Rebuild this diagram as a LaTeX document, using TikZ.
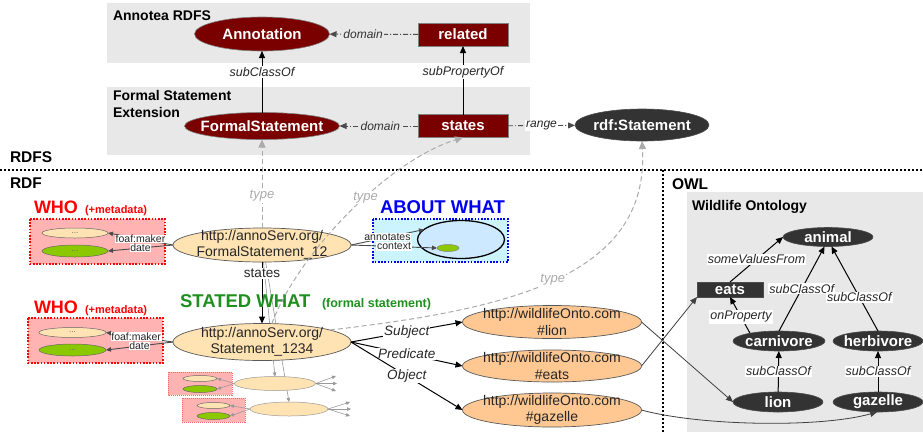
\documentclass[tikz,border=0pt]{standalone}
\usepackage{fontspec}
\setmainfont{Liberation Sans}
\usetikzlibrary{shapes.geometric,arrows.meta}
\pgfdeclarelayer{back}
\pgfdeclarelayer{mid}
\pgfsetlayers{back,mid,main}
\newcommand\myfs[2]{\fontsize{#1}{#2}\selectfont}
\definecolor{dred}{HTML}{7A0000}
\definecolor{dgray}{HTML}{333333}
\definecolor{boxgray}{HTML}{E8E8E8}
\definecolor{peach}{HTML}{FFE3B3}
\definecolor{orng}{HTML}{FFC892}
\definecolor{pinkf}{HTML}{FFB3B3}
\definecolor{greenf}{HTML}{8CC800}
\definecolor{cyanf}{HTML}{CCF4FF}
\definecolor{ltblue}{HTML}{CDE9FF}
\definecolor{stgreen}{HTML}{1F8F1F}
\definecolor{typegray}{HTML}{ABABAB}
\definecolor{whored}{HTML}{FF0000}
\definecolor{aboutblue}{HTML}{0000F0}
\begin{document}
\begin{tikzpicture}[x=1pt,y=-1pt,
  every node/.style={inner sep=0pt, outer sep=0pt},
  rdfsell/.style={ellipse, fill=dred, draw=black!50, line width=0.6pt},
  rdfsbox/.style={rectangle, fill=dred, draw=black!50, line width=0.6pt, text=white, font=\myfs{15}{18}\bfseries},
  darkell/.style={ellipse, fill=dgray, draw=black!70, line width=0.6pt},
  darkbox/.style={rectangle, fill=dgray, draw=black!70, line width=0.6pt, text=white, font=\myfs{15}{18}\bfseries},
  wtext/.style={text=white, font=\myfs{15}{18}\bfseries},
  anno/.style={ellipse, fill=peach, draw=black!65, line width=0.7pt},
  wild/.style={ellipse, fill=orng, draw=black!65, line width=0.7pt},
  urltext/.style={font=\myfs{14}{16.5}, align=center, text=black!85},
  dots/.style={font=\myfs{8}{9}, text=black!60},
  smallp/.style={ellipse, fill=peach, draw=black!60, line width=0.5pt},
  smallg/.style={ellipse, fill=greenf, draw=black!60, line width=0.5pt},
  whobox/.style={draw=whored, fill=pinkf, line width=1.8pt, dash pattern=on 1.6pt off 1.6pt},
  minibox/.style={draw=whored!60, fill=pinkf, line width=0.7pt, dash pattern=on 1pt off 1pt},
  whot/.style={text=whored, font=\myfs{18}{20}\bfseries},
  whos/.style={text=whored, font=\myfs{11}{13}\bfseries},
  ttl/.style={font=\myfs{14}{17}\bfseries, align=left},
  layer/.style={font=\myfs{15.5}{18}\bfseries},
  dlbl/.style={font=\myfs{12}{14}\itshape, fill=boxgray, inner sep=1.5pt, text=black!80},
  lbl/.style={font=\myfs{12.5}{14}\itshape, fill=white, inner sep=1pt, text=black!85},
  slbl/.style={font=\myfs{13.5}{15}\itshape, fill=white, inner sep=0.8pt, text=black!85},
  smlbl/.style={font=\myfs{10.5}{12}, fill=white, inner sep=0.6pt, text=black!85},
  stlbl/.style={font=\myfs{13.5}{15}, fill=white, inner sep=1pt, text=black!85},
  tlbl/.style={font=\myfs{13}{15}\itshape, text=typegray, fill=white, inner sep=1pt},
  arr/.style={draw=black, line width=1pt, -{Triangle[length=7pt,width=6pt]}},
  darr/.style={draw=black!70, line width=0.9pt, dash pattern=on 5pt off 2pt on 1pt off 2pt, -{Triangle[length=7pt,width=6pt]}},
  typearr/.style={draw=typegray, line width=1pt, dash pattern=on 5pt off 3pt, -{Triangle[length=8pt,width=7pt]}},
  warr/.style={draw=black!70, line width=0.9pt, -{Triangle[length=5pt,width=4.5pt]}},
  garr/.style={draw=black!40, line width=0.6pt, -{Triangle[length=4pt,width=3.5pt]}},
  bnd/.style={draw=black, line width=2pt, dash pattern=on 2pt off 2pt}
]
\useasboundingbox (0,0) rectangle (923,432);
\begin{pgfonlayer}{back}
  \fill[white] (0,0) rectangle (923,432);
  \fill[boxgray] (107,3) rectangle (530,63);
  \fill[boxgray] (107,87) rectangle (530,155);
  \fill[boxgray] (687,192) rectangle (923,432);
  \draw[whobox] (30,219) rectangle (165,264);
  \draw[whobox] (28,318) rectangle (163,363);
  \draw[draw=aboutblue, fill=cyanf, line width=1.8pt, dash pattern=on 1.6pt off 1.6pt] (373,219) rectangle (508,262);
  \draw[minibox] (168,372) rectangle (232,395);
  \draw[minibox] (182,398) rectangle (245,422);
\end{pgfonlayer}

% titles
\node[ttl, anchor=base west] (tannotea) at (113,20) {Annotea RDFS};
\node[ttl, anchor=base west] (tfs1) at (113,100) {Formal Statement};
\node[ttl, anchor=base west] (tfs2) at (113,117) {Extension};
\node[layer, anchor=base west] (trdfs) at (10,162) {RDFS};
\node[layer, anchor=base west] (trdf) at (10,188) {RDF};
\node[layer, anchor=base west] (towl) at (672,189) {OWL};
\node[ttl, anchor=base west] (twild) at (692,210) {Wildlife Ontology};

% boundaries
\draw[bnd] (0,170) -- (923,170);
\draw[bnd] (663,170) -- (663,432);

% RDFS nodes
\node[rdfsell, minimum width=135pt, minimum height=34pt, label={[wtext]center:Annotation}] (annot) at (262,34) {};
\node[rdfsbox, minimum width=90pt, minimum height=23pt] (related) at (463,34.5) {related};
\node[rdfsell, minimum width=155pt, minimum height=27pt, label={[wtext]center:FormalStatement}] (fstmt) at (262,126) {};
\node[rdfsbox, minimum width=90pt, minimum height=23pt] (states) at (463,126) {states};
\node[darkell, minimum width=134pt, minimum height=32pt, label={[wtext]center:{rdf:Statement}}] (rdfst) at (642,125) {};

\draw[darr] (related) -- node[dlbl, pos=0.62]{domain} (annot);
\draw[darr] (states) -- node[dlbl, pos=0.48]{domain} (fstmt);
\draw[darr] (states) -- node[lbl, font=\myfs{12}{14}\itshape, pos=0.5]{range} (rdfst);
\draw[arr] (fstmt) -- node[lbl, pos=0.66]{subClassOf} (annot);
\draw[arr] (states) -- node[lbl, pos=0.62]{subPropertyOf} (related);

% RDF nodes
\node[anno, minimum width=178pt, minimum height=34pt, label={[urltext]center:{http://annoServ.org/\\FormalStatement\_12}}] (fs12) at (262,245) {};
\node[anno, minimum width=178pt, minimum height=37pt, label={[urltext]center:{http://annoServ.org/\\Statement\_1234}}] (s1234) at (262,342) {};

\node[wild, minimum width=179pt, minimum height=33pt, label={[urltext]center:{http://wildlifeOnto.com\\\#lion}}] (wlion) at (552,322) {};
\node[wild, minimum width=179pt, minimum height=32pt, label={[urltext]center:{http://wildlifeOnto.com\\\#eats}}] (weats) at (552,366) {};
\node[wild, minimum width=179pt, minimum height=34pt, label={[urltext]center:{http://wildlifeOnto.com\\\#gazelle}}] (wgaz) at (552,410) {};

% WHO boxes content
\node[smallp, minimum width=66pt, minimum height=10pt, label={[dots]center:...}] (w1p) at (75,233) {};
\node[smallg, minimum width=66pt, minimum height=12pt, label={[dots]center:...}] (w1g) at (75,251) {};
\node[smallp, minimum width=67pt, minimum height=10pt, label={[dots]center:...}] (w2p) at (72.5,332.5) {};
\node[smallg, minimum width=67pt, minimum height=12pt, label={[dots]center:...}] (w2g) at (72.5,350) {};

\node[whot, anchor=base west] (who1) at (34,213) {WHO};
\node[whos, anchor=base west] (who1s) at (85,213) {(+metadata)};
\node[whot, anchor=base west] (who2) at (34,313) {WHO};
\node[whos, anchor=base west] (who2s) at (85,313) {(+metadata)};

\draw[warr] (fs12.west) -- node[smlbl]{foaf:maker} (w1p.east);
\draw[warr] (fs12.west) -- node[smlbl]{date} (w1g.east);
\draw[warr] (s1234.west) -- node[smlbl, pos=0.55]{foaf:maker} (w2p.east);
\draw[warr] (s1234.west) -- node[smlbl, pos=0.5]{date} (w2g.east);

% ABOUT WHAT
\node[ellipse, fill=ltblue, draw=black, line width=1.3pt, minimum width=87pt, minimum height=38pt] (abE) at (461,239.5) {};
\node[ellipse, fill=greenf, draw=black!50, line width=0.5pt, minimum width=22pt, minimum height=7pt] (abG) at (448,248) {};
\node[text=aboutblue, font=\myfs{18.5}{20}\bfseries, anchor=base west] (abt) at (380,213) {ABOUT WHAT};
\draw[warr] (fs12.east) -- node[smlbl, pos=0.5]{annotates} (abE.165);
\draw[warr] (fs12.east) -- node[smlbl, pos=0.5]{context} (abG.west);

% mini statements
\node[smallp, minimum width=34pt, minimum height=6pt] (gAp) at (200,378.5) {};
\node[smallg, minimum width=34pt, minimum height=7pt] (gAg) at (200,389) {};
\node[anno, line width=0.5pt, draw=black!40, minimum width=81pt, minimum height=14pt] (gA) at (275,383.5) {};
\node[smallp, minimum width=33pt, minimum height=6pt] (gBp) at (213.5,405.5) {};
\node[smallg, minimum width=33pt, minimum height=7pt] (gBg) at (213.5,416) {};
\node[anno, line width=0.5pt, draw=black!40, minimum width=78pt, minimum height=14pt] (gB) at (289,409) {};
\draw[garr] (gA.west) -- (gAp.east);
\draw[garr] (gA.west) -- (gAg.east);
\draw[garr] (gB.west) -- (gBp.east);
\draw[garr] (gB.west) -- (gBg.east);
\coordinate (fa1) at (336,376);
\coordinate (fa2) at (337,383.5);
\coordinate (fa3) at (336,391);
\coordinate (fb1) at (350,402);
\coordinate (fb2) at (351,409);
\coordinate (fb3) at (350,416);
\draw[garr] (gA.east) -- (fa1);
\draw[garr] (gA.east) -- (fa2);
\draw[garr] (gA.east) -- (fa3);
\draw[garr] (gB.east) -- (fb1);
\draw[garr] (gB.east) -- (fb2);
\draw[garr] (gB.east) -- (fb3);
\begin{pgfonlayer}{mid}
  \draw[garr] (fs12.275) -- (gA.north);
  \draw[garr] (fs12.282) -- (gB.north);
\end{pgfonlayer}

% states and statements
\draw[arr] (fs12.south) -- node[stlbl, pos=0.18]{states} (s1234.north);
\node[text=stgreen, font=\myfs{18.5}{20}\bfseries, anchor=base west] (stw) at (180,307) {STATED WHAT};
\node[text=stgreen, font=\myfs{12.5}{14}\bfseries, anchor=base west] (stws) at (322,307) {(formal statement)};

\draw[arr] (s1234.east) -- node[slbl]{Subject} (wlion.west);
\draw[arr] (s1234.east) -- node[slbl]{Predicate} (weats.west);
\draw[arr] (s1234.east) -- node[slbl]{Object} (wgaz.west);

% type links
\draw[typearr] (fs12.north) -- node[tlbl, pos=0.36]{type} (fstmt.south);
\draw[typearr] (s1234.62) .. controls (300,250) and (390,160) .. node[tlbl, pos=0.57]{type} (states.south);
\draw[typearr] (s1234.10) .. controls (500,310) and (650,280) .. node[tlbl, pos=0.5]{type} (rdfst.south);

% OWL
\node[darkell, minimum width=90pt, minimum height=19pt, label={[wtext]center:animal}] (animal) at (828,237) {};
\node[darkbox, minimum width=66pt, minimum height=15pt] (eatsb) at (730,289.5) {eats};
\node[darkell, minimum width=92pt, minimum height=20pt, label={[wtext]center:carnivore}] (carn) at (779,341) {};
\node[darkell, minimum width=90pt, minimum height=20pt, label={[wtext]center:herbivore}] (herb) at (878,341) {};
\node[darkell, minimum width=90pt, minimum height=20pt, label={[wtext]center:lion}] (lionb) at (778,402) {};
\node[darkell, minimum width=90pt, minimum height=20pt, label={[wtext]center:gazelle}] (gaz) at (878,402) {};

\draw[arr] (eatsb.north) -- node[lbl]{someValuesFrom} (animal.west);
\draw[arr] (carn.165) -- node[lbl, pos=0.45]{onProperty} (eatsb.south);
\draw[arr] (carn.north) -- node[lbl]{subClassOf} (animal.250);
\draw[arr] (herb.north) -- node[lbl, pos=0.4]{subClassOf} (animal.290);
\draw[arr] (lionb) -- node[lbl]{subClassOf} (carn);
\draw[arr] (gaz) -- node[lbl]{subClassOf} (herb);

% RDF to OWL
\draw[arr, line width=0.8pt, draw=black!75] (wlion.east) -- (lionb.west);
\draw[arr, line width=0.8pt, draw=black!75] (weats.east) -- (eatsb.south west);
\draw[arr, line width=0.8pt, draw=black!75] (wgaz.east) .. controls (700,426) and (820,428) .. (gaz.265);
\end{tikzpicture}
\end{document}
